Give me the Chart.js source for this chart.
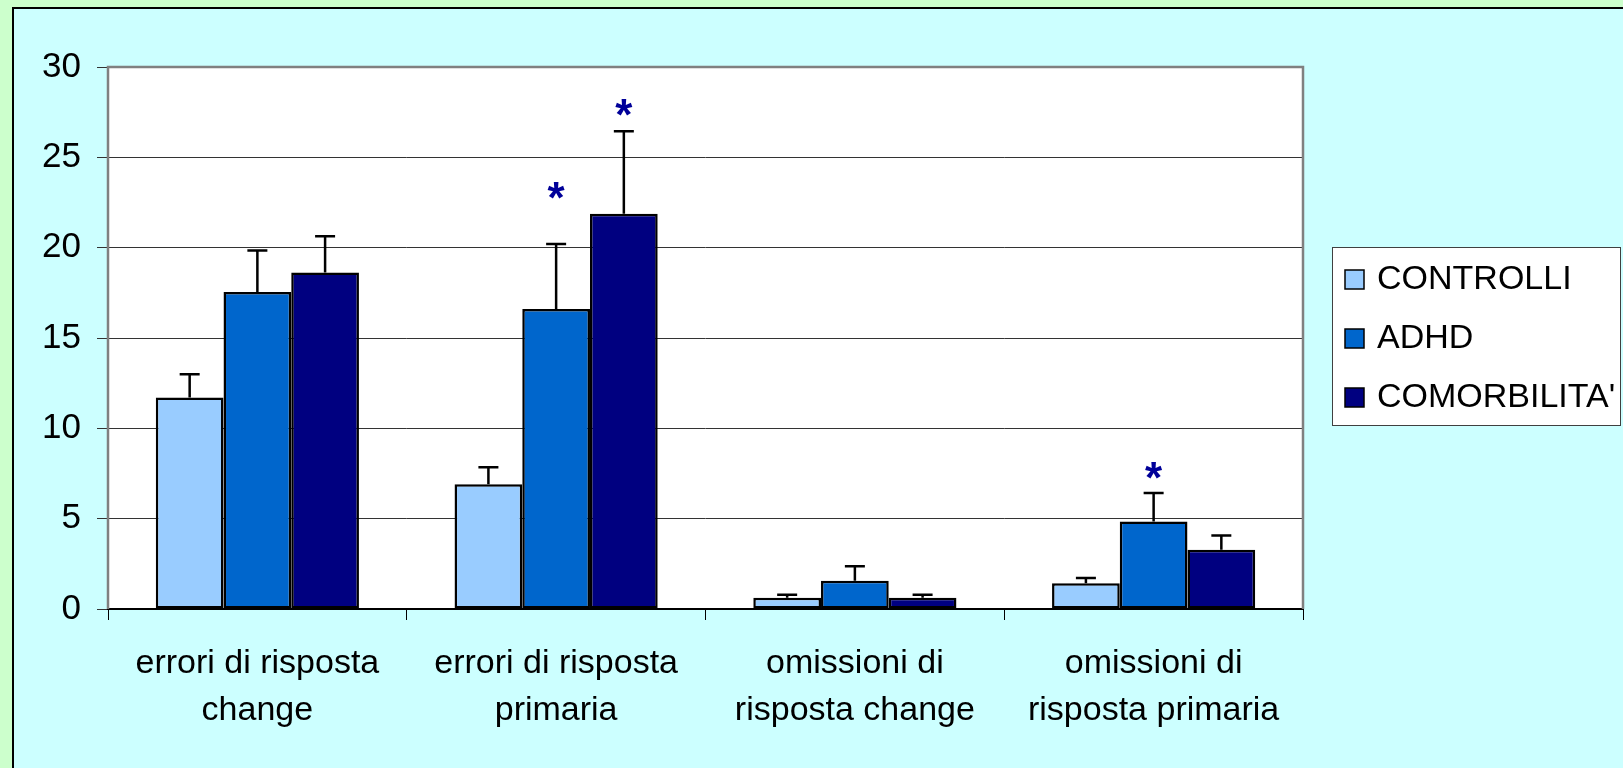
<!DOCTYPE html>
<html>
<head>
<meta charset="utf-8">
<script src="https://cdn.jsdelivr.net/npm/chart.js@4/dist/chart.umd.min.js"></script>
<style>
  html, body { margin: 0; padding: 0; background: #ccffcc; width: 1623px; height: 768px; overflow: hidden; }
  #panel { position: absolute; left: 12px; top: 7px; width: 1611px; height: 761px; background: #ccffff;
           border-left: 2px solid #000; border-top: 2px solid #000; box-sizing: border-box; }
  #wrap { position: absolute; left: 0; top: 0; width: 1623px; height: 768px; }
</style>
</head>
<body>
<div id="panel"></div>
<div id="wrap"><canvas id="chart" width="1623" height="768"></canvas></div>
<script>
const categories = [
    ['errori di risposta', 'change'],
    ['errori di risposta', 'primaria'],
    ['omissioni di', 'risposta change'],
    ['omissioni di', 'risposta primaria']
];
const seriesNames = ['CONTROLLI', 'ADHD', "COMORBILITA'"];
const seriesColors = ['#99ccff', '#0066cc', '#000080'];

const controlli = [11.7, 6.9, 0.62, 1.42];
const adhd = [17.55, 16.6, 1.57, 4.85];
const comorbilita = [18.63, 21.88, 0.62, 3.28];

// upper error (SE) for each bar
const controlliErr = [1.3, 0.94, 0.17, 0.3];
const adhdErr = [2.3, 3.6, 0.79, 1.57];
const comorbilitaErr = [2.0, 4.57, 0.17, 0.79];

// where the significance asterisks sit (y value), null = none
const controlliStar = [null, null, null, null];
const adhdStar = [null, 23.3, null, 7.8];
const comorbilitaStar = [null, 27.9, null, null];

const yMin = 0, yMax = 30, yStep = 5;

const means = [controlli, adhd, comorbilita];
const errs = [controlliErr, adhdErr, comorbilitaErr];
const stars = [controlliStar, adhdStar, comorbilitaStar];

const FONT = 'Liberation Sans, Arial, sans-serif';

const plotFrame = {
    id: 'plotFrame',
    beforeDraw(chart) {
        const a = chart.chartArea, ctx = chart.ctx;
        ctx.save();
        ctx.fillStyle = '#ffffff';
        ctx.fillRect(a.left, a.top, a.right - a.left, a.bottom - a.top);
        ctx.restore();
    },
    afterDraw(chart) {
        const a = chart.chartArea, ctx = chart.ctx;
        ctx.save();
        ctx.strokeStyle = '#808080';
        ctx.lineWidth = 2.5;
        ctx.beginPath();
        ctx.moveTo(a.left, a.bottom);
        ctx.lineTo(a.left, a.top);
        ctx.lineTo(a.right, a.top);
        ctx.lineTo(a.right, a.bottom);
        ctx.stroke();
        ctx.restore();
    }
};

const errorBars = {
    id: 'errorBars',
    afterDatasetsDraw(chart) {
        const ctx = chart.ctx, y = chart.scales.y;
        ctx.save();
        ctx.strokeStyle = '#000';
        ctx.lineWidth = 2.5;
        means.forEach((vals, i) => {
            const meta = chart.getDatasetMeta(i);
            meta.data.forEach((bar, j) => {
                const y0 = y.getPixelForValue(vals[j]);
                const y1 = y.getPixelForValue(vals[j] + errs[i][j]);
                ctx.beginPath();
                ctx.moveTo(bar.x, y0);
                ctx.lineTo(bar.x, y1);
                ctx.moveTo(bar.x - 10, y1);
                ctx.lineTo(bar.x + 10, y1);
                ctx.stroke();
            });
        });
        // asterisks
        const fs = 44;
        ctx.fillStyle = '#000099';
        ctx.font = 'bold ' + fs + 'px ' + FONT;
        ctx.textAlign = 'center';
        ctx.textBaseline = 'alphabetic';
        stars.forEach((vals, i) => {
            const meta = chart.getDatasetMeta(i);
            vals.forEach((v, j) => {
                if (v === null) return;
                ctx.fillText('*', meta.data[j].x, y.getPixelForValue(v) + fs * 0.57);
            });
        });
        ctx.restore();
    }
};

const boxLegend = {
    id: 'boxLegend',
    afterDraw(chart) {
        const ctx = chart.ctx;
        ctx.save();
        ctx.fillStyle = '#ffffff';
        ctx.fillRect(1332, 247, 289, 179);
        ctx.strokeStyle = '#404040';
        ctx.lineWidth = 1;
        ctx.strokeRect(1332.5, 247.5, 288, 178);
        ctx.font = '34px ' + FONT;
        ctx.textAlign = 'left';
        ctx.textBaseline = 'alphabetic';
        seriesNames.forEach((name, i) => {
            const base = 289 + i * 59;
            ctx.fillStyle = seriesColors[i];
            ctx.fillRect(1345, base - 19, 19, 19);
            ctx.strokeStyle = '#000';
            ctx.lineWidth = 1.5;
            ctx.strokeRect(1345, base - 19, 19, 19);
            ctx.fillStyle = '#000';
            ctx.fillText(name, 1377, base);
        });
        ctx.restore();
    }
};

new Chart(document.getElementById('chart'), {
    type: 'bar',
    data: {
        labels: categories,
        datasets: seriesNames.map((name, i) => ({
            label: name,
            data: means[i],
            backgroundColor: seriesColors[i],
            borderColor: '#000',
            borderWidth: 2.5,
            borderSkipped: false,
            categoryPercentage: 0.68,
            barPercentage: 1.0
        }))
    },
    options: {
        responsive: false,
        animation: false,
        layout: { padding: { left: 0, top: 67, right: 320, bottom: 0 } },
        plugins: {
            legend: { display: false },
            tooltip: { enabled: false }
        },
        scales: {
            x: {
                afterFit(scale) { scale.height = 159; },
                grid: { drawOnChartArea: false, drawTicks: true, tickLength: 11, color: '#000', offset: true },
                border: { display: true, color: '#000', width: 2 },
                ticks: {
                    color: '#000',
                    padding: 20,
                    maxRotation: 0,
                    autoSkip: false,
                    font: { family: FONT, size: 34, lineHeight: 1.38 }
                }
            },
            y: {
                min: yMin,
                max: yMax,
                afterFit(scale) { scale.width = 108; },
                grid: { color: '#333', lineWidth: 1, tickLength: 11, drawTicks: true },
                border: { display: false },
                ticks: {
                    stepSize: yStep,
                    color: '#000',
                    padding: 16,
                    font: { family: FONT, size: 35 }
                }
            }
        }
    },
    plugins: [plotFrame, errorBars, boxLegend]
});
</script>
</body>
</html>
